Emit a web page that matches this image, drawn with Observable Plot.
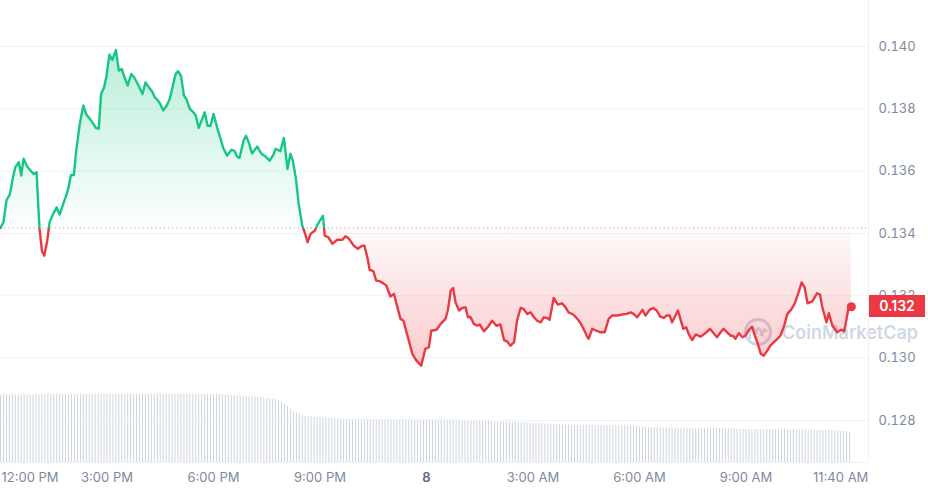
<!DOCTYPE html>
<html><head><meta charset="utf-8">
<script src="https://cdn.jsdelivr.net/npm/d3@7"></script>
<script src="https://cdn.jsdelivr.net/npm/@observablehq/plot@0.6"></script>
<style>
html,body{margin:0;padding:0;background:#fff;}
#wrap{position:relative;width:928px;height:495px;overflow:hidden;font-family:Inter,sans-serif;}
#wrap > svg, #wrap > .layer{position:absolute;left:0;top:0;}
</style></head><body><div id="wrap"></div>
<script>
// minutes after 12:00 PM
const minutes = [
0,5,10,16,21,25,31,35,39,45,
52,56,61,64,66,70,74,79,83,89,
95,100,106,112,115,119,124,128,134,140,
145,151,157,161,166,170,175,179,184,189,
195,200,205,210,215,221,226,232,240,245,
251,256,261,266,270,275,281,286,292,296,
300,305,310,314,320,326,330,335,341,345,
350,355,360,366,372,377,383,390,395,400,
404,411,415,420,425,434,441,448,455,462,
465,473,479,485,490,494,499,504,510,514,
519,524,531,538,545,548,554,561,569,578,
583,589,597,604,611,615,620,624,630,635,
641,647,652,659,665,670,676,681,687,696,
703,711,718,724,728,737,744,752,756,761,
765,769,775,780,786,790,794,800,806,810,
817,824,831,838,845,851,856,862,868,873,
879,884,890,896,901,907,913,918,924,928,
935,942,949,955,960,968,975,981,987,992,
994,1000,1007,1014,1021,1028,1034,1042,1051,1058,
1065,1070,1076,1085,1090,1097,1103,1109,1115,1121,
1126,1131,1135,1145,1149,1154,1159,1163,1169,1175,
1183,1190,1199,1206,1211,1217,1222,1228,1234,1238,
1242,1248,1254,1259,1265,1270,1275,1279,1285,1290,
1296,1301,1310,1318,1324,1330,1336,1342,1348,1354,
1359,1364,1372,1380,1385,1389,1396,1400,1406,1414,
1421,1426,1434,1438];
const prices = [
0.13418,0.13436,0.13506,0.13527,0.13580,0.13613,0.13629,0.13586,0.13640,0.13615,
0.13599,0.13591,0.13597,0.13484,0.13415,0.13345,0.13329,0.13377,0.13436,0.13463,
0.13484,0.13461,0.13495,0.13527,0.13548,0.13588,0.13588,0.13666,0.13752,0.13811,
0.13782,0.13768,0.13752,0.13739,0.13736,0.13848,0.13869,0.13904,0.13974,0.13957,
0.13989,0.13923,0.13928,0.13900,0.13875,0.13912,0.13901,0.13880,0.13848,0.13885,
0.13869,0.13857,0.13837,0.13827,0.13816,0.13795,0.13811,0.13832,0.13880,0.13912,
0.13921,0.13907,0.13843,0.13832,0.13800,0.13789,0.13779,0.13739,0.13768,0.13789,
0.13746,0.13746,0.13784,0.13741,0.13704,0.13672,0.13650,0.13668,0.13666,0.13647,
0.13643,0.13700,0.13714,0.13690,0.13657,0.13679,0.13656,0.13647,0.13634,0.13656,
0.13672,0.13664,0.13707,0.13607,0.13656,0.13634,0.13580,0.13495,0.13425,0.13404,
0.13372,0.13399,0.13409,0.13436,0.13457,0.13393,0.13388,0.13367,0.13380,0.13380,
0.13391,0.13383,0.13361,0.13351,0.13361,0.13361,0.13324,0.13283,0.13279,0.13249,
0.13247,0.13240,0.13233,0.13198,0.13206,0.13169,0.13126,0.13120,0.13078,0.13014,
0.12992,0.12976,0.13030,0.13035,0.13088,0.13091,0.13110,0.13126,0.13153,0.13217,
0.13225,0.13179,0.13153,0.13161,0.13163,0.13131,0.13133,0.13110,0.13104,0.13108,
0.13086,0.13101,0.13120,0.13104,0.13108,0.13058,0.13054,0.13040,0.13051,0.13120,
0.13161,0.13158,0.13142,0.13147,0.13133,0.13120,0.13115,0.13131,0.13129,0.13123,
0.13193,0.13172,0.13176,0.13163,0.13147,0.13140,0.13126,0.13110,0.13088,0.13067,
0.13062,0.13094,0.13088,0.13083,0.13083,0.13126,0.13137,0.13137,0.13140,0.13142,
0.13147,0.13142,0.13131,0.13155,0.13137,0.13155,0.13161,0.13153,0.13133,0.13129,
0.13137,0.13137,0.13115,0.13153,0.13126,0.13094,0.13099,0.13078,0.13058,0.13076,
0.13069,0.13078,0.13094,0.13078,0.13067,0.13083,0.13094,0.13083,0.13072,0.13072,
0.13062,0.13080,0.13067,0.13072,0.13091,0.13101,0.13072,0.13051,0.13014,0.13008,
0.13024,0.13040,0.13056,0.13072,0.13101,0.13142,0.13155,0.13174,0.13206,0.13243,
0.13227,0.13176,0.13182,0.13208,0.13204,0.13163,0.13115,0.13144,0.13104,0.13083,
0.13091,0.13086,0.13169,0.13165];
const baseline = 0.13418;
// volume bars, one per 5 minutes (relative units)
const volume = [
67.6,67.7,67.6,67.7,67.7,67.6,67.8,67.7,67.7,67.6,67.7,67.8,
67.8,67.7,67.8,67.8,67.9,67.8,67.8,67.9,67.9,68.0,68.0,68.0,
68.1,68.0,68.1,68.1,68.2,68.1,68.2,68.2,68.2,68.3,68.2,68.2,
68.3,68.3,68.2,68.3,68.3,68.4,68.3,68.3,68.4,68.3,68.3,68.4,
68.4,68.3,68.4,68.4,68.3,68.4,68.4,68.4,68.3,68.4,68.4,68.3,
68.3,68.4,68.3,68.3,68.3,68.2,68.3,68.2,68.2,68.2,68.1,68.1,
68.1,68.0,67.8,67.6,67.4,67.2,67.0,66.8,66.6,66.4,66.2,66.0,
65.8,65.6,65.3,65.0,64.7,64.4,64.0,63.6,63.1,62.5,61.6,60.2,
58.2,55.8,53.2,51.0,49.4,48.2,47.3,46.6,46.1,45.7,45.4,45.1,
44.8,44.6,44.4,44.2,44.0,43.8,43.7,43.6,43.5,43.4,43.3,43.2,
43.2,43.1,43.1,43.0,43.0,43.0,42.9,42.9,42.9,42.9,42.8,42.8,
42.8,42.8,42.8,42.7,42.7,42.8,42.7,42.7,42.7,42.7,42.6,42.6,
42.6,42.6,42.7,42.6,42.6,42.6,42.5,42.5,42.6,42.5,42.5,42.5,
42.4,42.4,42.3,42.2,42.0,41.8,41.6,41.3,41.0,40.7,40.5,40.4,
40.3,40.3,40.3,40.2,40.2,40.2,40.1,40.1,40.0,40.0,39.8,39.6,
39.4,39.2,39.0,38.8,38.6,38.4,38.2,37.9,37.7,37.5,37.3,37.2,
37.1,37.1,37.0,37.1,37.0,37.0,37.0,36.9,37.0,36.9,36.9,36.9,
36.9,36.8,36.8,36.8,36.7,36.7,36.7,36.6,36.6,36.5,36.4,36.2,
35.9,35.6,35.3,35.0,34.8,34.6,34.5,34.5,34.4,34.4,34.4,34.4,
34.4,34.3,34.3,34.3,34.3,34.2,34.2,34.2,34.2,34.2,34.1,34.1,
34.1,34.1,34.0,34.0,34.0,33.9,33.9,33.8,33.6,33.4,33.2,33.0,
32.9,32.8,32.8,32.8,32.7,32.7,32.7,32.7,32.7,32.6,32.6,32.6,
32.6,32.6,32.6,32.5,32.5,32.5,32.5,32.5,32.4,32.4,32.4,32.4,
32.3,32.3,32.2,32.2,32.1,32.0,31.8,31.5,31.2,30.9,30.6,30.4];
const yTicks = [0.128, 0.130, 0.132, 0.134, 0.136, 0.138, 0.140];
const xTickMinutes = [0, 180, 360, 540, 720, 900, 1080, 1260, 1420];
const xTickLabels = ["12:00 PM","3:00 PM","6:00 PM","9:00 PM","8","3:00 AM","6:00 AM","9:00 AM","11:40 AM"];

const GREEN = "#16c784", RED = "#ea3943", AXIS = "#808a9d", GRID = "#eff2f5";
const W = 928, H = 495, mR = 60, mB = 33;
const xDomain = [0, 1467];
const series = minutes.map((t, i) => ({t, p: prices[i]}));
const volData = volume.map((v, i) => ({t: i * 5, v}));
const last = series[series.length - 1];
const ticksLab = xTickMinutes.map((t, i) => ({t, label: xTickLabels[i]}));

const wrap = document.getElementById("wrap");

const volPlot = Plot.plot({
  width: W, height: H, marginTop: 392, marginBottom: mB, marginLeft: 0, marginRight: mR,
  x: {domain: xDomain, axis: null}, y: {domain: [0, 70], axis: null},
  style: {background: "transparent"},
  marks: [Plot.ruleX(volData, {x: "t", y1: 0, y2: "v", stroke: "#cdd3df", strokeWidth: 1})]
});
wrap.appendChild(volPlot);

// watermark
const wm = document.createElementNS("http://www.w3.org/2000/svg", "svg");
wm.setAttribute("class", "layer");
wm.setAttribute("width", W); wm.setAttribute("height", H);
wm.innerHTML = `<g opacity="0.85">
<circle cx="758" cy="332" r="12.5" fill="none" stroke="#c9d2e1" stroke-width="3"/>
<path d="M750,338 L750,333 C751,326 754,326 755,331 L756,334 C757,327 760,327 761,332 L762,336 C763,330 765,328 766,331" fill="none" stroke="#c9d2e1" stroke-width="2.6" stroke-linecap="round"/>
<text x="782" y="339" font-family="Inter, sans-serif" font-size="18.5" font-weight="600" fill="#c9d2e1" textLength="136" lengthAdjust="spacingAndGlyphs">CoinMarketCap</text></g>`;
wrap.appendChild(wm);

const pricePlot = Plot.plot({
  width: W, height: H, marginTop: 0, marginBottom: mB, marginLeft: 0, marginRight: mR,
  x: {domain: xDomain, axis: null},
  y: {domain: [0.12665, 0.14148]},
  style: {background: "transparent", fontFamily: "Inter, sans-serif", fontSize: "13px", color: AXIS},
  marks: [
    Plot.ruleY(yTicks, {stroke: GRID}),
    Plot.ruleY([0.12665], {stroke: GRID}),
    Plot.ruleX([xDomain[1]], {stroke: GRID}),
    Plot.axisY(yTicks, {anchor: "right", tickSize: 0, tickPadding: 10, tickFormat: d => d.toFixed(3), label: null, fontSize: 13}),
    Plot.areaY(series, {x: "t", y1: () => baseline, y2: "p", fill: "url(#cmcFill)"}),
    Plot.ruleY([baseline], {stroke: "#a3aabb", strokeDasharray: "1.2,3"}),
    Plot.line(series, {x: "t", y: "p", stroke: "url(#cmcLine)", strokeWidth: 2.4, strokeLinejoin: "round"}),
    Plot.dot([last], {x: "t", y: "p", r: 4.5, fill: RED}),
    Plot.text(ticksLab.filter((d, i) => i === 0), {x: "t", text: "label", frameAnchor: "bottom", dy: 19, dx: 1, textAnchor: "start", fill: AXIS, fontSize: 13}),
    Plot.text(ticksLab.filter(d => d.label === "8"), {x: "t", text: "label", frameAnchor: "bottom", dy: 19, fill: "#58667e", fontWeight: 600, fontSize: 13}),
    Plot.text(ticksLab.filter((d, i) => i > 0 && d.label !== "8"), {x: "t", text: "label", frameAnchor: "bottom", dy: 19, fill: AXIS, fontSize: 13})
  ]
});

const ys = pricePlot.scale("y");
const yb = ys.apply(baseline);
const yTop = ys.apply(d3.max(prices)), yBot = ys.apply(d3.min(prices));
const ob = (yb - yTop) / (yBot - yTop);
const defs = document.createElementNS("http://www.w3.org/2000/svg", "defs");
defs.innerHTML = `
<linearGradient id="cmcFill" gradientUnits="userSpaceOnUse" x1="0" x2="0" y1="${yTop}" y2="${yBot}">
  <stop offset="0" stop-color="${GREEN}" stop-opacity="0.30"/>
  <stop offset="${ob}" stop-color="${GREEN}" stop-opacity="0.01"/>
  <stop offset="${ob}" stop-color="${RED}" stop-opacity="0.02"/>
  <stop offset="1" stop-color="${RED}" stop-opacity="0.27"/>
</linearGradient>
<linearGradient id="cmcLine" gradientUnits="userSpaceOnUse" x1="0" x2="0" y1="${yb - 1}" y2="${yb + 1}">
  <stop offset="0.5" stop-color="${GREEN}"/>
  <stop offset="0.5" stop-color="${RED}"/>
</linearGradient>`;
pricePlot.insertBefore(defs, pricePlot.firstChild);
wrap.appendChild(pricePlot);

// last price tag
const yl = ys.apply(last.p);
const tag = document.createElement("div");
tag.className = "layer";
tag.textContent = d3.format(".3f")(last.p);
Object.assign(tag.style, {left: "869px", top: (yl - 11) + "px", width: "56px", height: "22px",
  background: RED, color: "#fff", font: "600 14px Inter, sans-serif", lineHeight: "22px", textAlign: "center"});
wrap.appendChild(tag);
</script></body></html>
